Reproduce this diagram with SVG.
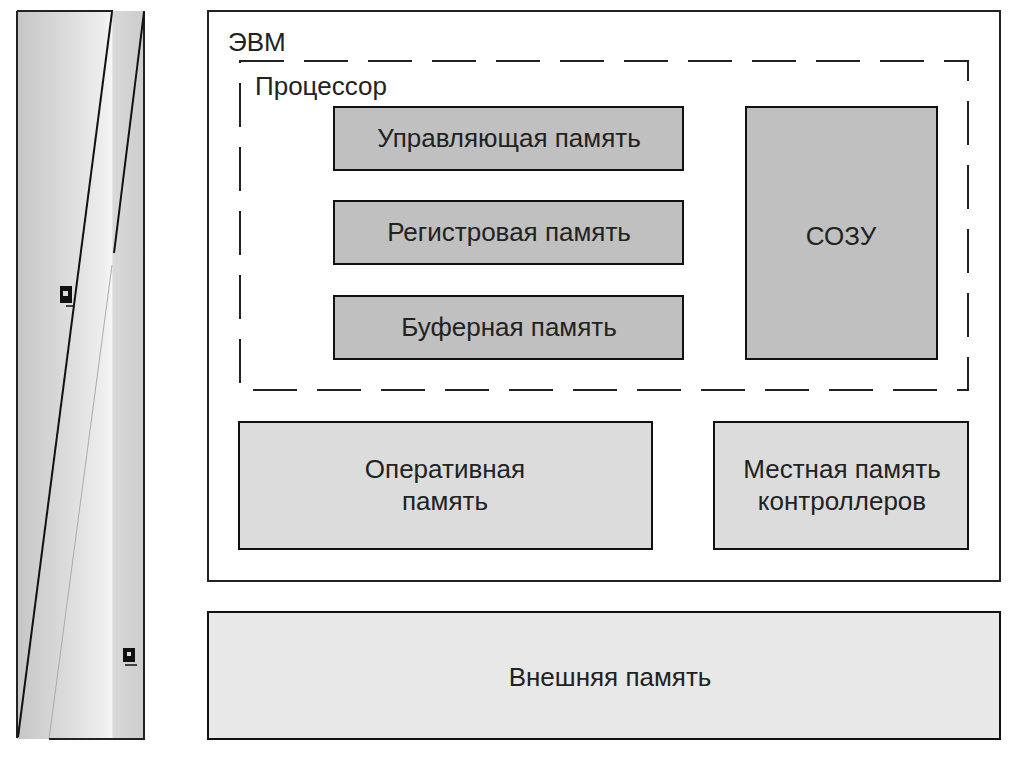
<svg xmlns="http://www.w3.org/2000/svg" width="1013" height="768" viewBox="0 0 1013 768">
<style>
.t{font-family:"Liberation Sans",Arial,sans-serif;font-size:26px;fill:#222}
.c{text-anchor:middle}
.box{stroke:#111;stroke-width:2}
.dk{fill:#c0c0c0}
.md{fill:#dcdcdc}
.lt{fill:#e8e8e8}
</style>
<defs>
<linearGradient id="bar" x1="17" y1="0" x2="145" y2="0" gradientUnits="userSpaceOnUse">
<stop offset="0" stop-color="#c6c6c6"/>
<stop offset="0.35" stop-color="#d9d9d9"/>
<stop offset="0.68" stop-color="#eeeeee"/>
<stop offset="0.74" stop-color="#f6f6f6"/>
<stop offset="0.75" stop-color="#d9d9d9"/>
<stop offset="1" stop-color="#cccccc"/>
</linearGradient>
</defs>
<rect width="1013" height="768" fill="#fff"/>
<g id="sidebar">
<rect x="17" y="11" width="128" height="728" fill="url(#bar)"/>
<line x1="112" y1="265" x2="49" y2="739" stroke="#aaaaaa" stroke-width="1"/>
<line x1="17" y1="11" x2="113" y2="11" stroke="#222" stroke-width="2"/>
<line x1="17" y1="11" x2="17" y2="738" stroke="#222" stroke-width="2"/>
<line x1="144" y1="11" x2="144" y2="739" stroke="#222" stroke-width="2"/>
<line x1="49" y1="739" x2="145" y2="739" stroke="#222" stroke-width="2"/>
<line x1="112" y1="12" x2="18" y2="737" stroke="#111" stroke-width="2"/>
<line x1="144" y1="12" x2="114" y2="253" stroke="#111" stroke-width="2"/>
<rect x="60" y="286" width="12" height="17" fill="#111"/>
<rect x="63" y="291" width="5" height="5" fill="#ddd"/>
<line x1="66" y1="306" x2="74" y2="306" stroke="#111" stroke-width="1.5"/>
<rect x="123" y="648" width="12" height="14" fill="#111"/>
<rect x="127" y="652" width="4" height="4" fill="#ddd"/>
<line x1="125" y1="665" x2="137" y2="665" stroke="#111" stroke-width="1.5"/>
</g>
<g id="evm">
<rect x="208" y="11" width="792" height="570" fill="#fff" stroke="#222" stroke-width="2"/>
<text class="t" x="228" y="51">ЭВМ</text>
</g>
<g id="processor">
<rect x="240" y="61" width="728" height="329" fill="none" stroke="#222" stroke-width="2" stroke-dasharray="44 20"/>
<text class="t" x="255" y="95">Процессор</text>
</g>
<g id="control-mem">
<rect class="box dk" x="334" y="107" width="349" height="63"/>
<text class="t c" x="509" y="147">Управляющая память</text>
</g>
<g id="register-mem">
<rect class="box dk" x="334" y="201" width="349" height="63"/>
<text class="t c" x="509" y="241">Регистровая память</text>
</g>
<g id="buffer-mem">
<rect class="box dk" x="334" y="296" width="349" height="63"/>
<text class="t c" x="509" y="336">Буферная память</text>
</g>
<g id="sozu">
<rect class="box dk" x="746" y="107" width="191" height="252"/>
<text class="t c" x="841" y="245">СОЗУ</text>
</g>
<g id="ram">
<rect class="box md" x="239" y="422" width="413" height="127"/>
<text class="t c" x="445" y="478">Оперативная</text>
<text class="t c" x="445" y="510">память</text>
</g>
<g id="local-mem">
<rect class="box md" x="714" y="422" width="254" height="127"/>
<text class="t c" x="842" y="478">Местная память</text>
<text class="t c" x="842" y="510">контроллеров</text>
</g>
<g id="external-mem">
<rect class="box lt" x="208" y="612" width="792" height="127"/>
<text class="t c" x="610" y="686">Внешняя память</text>
</g>
<g id="connectors"/>
</svg>
